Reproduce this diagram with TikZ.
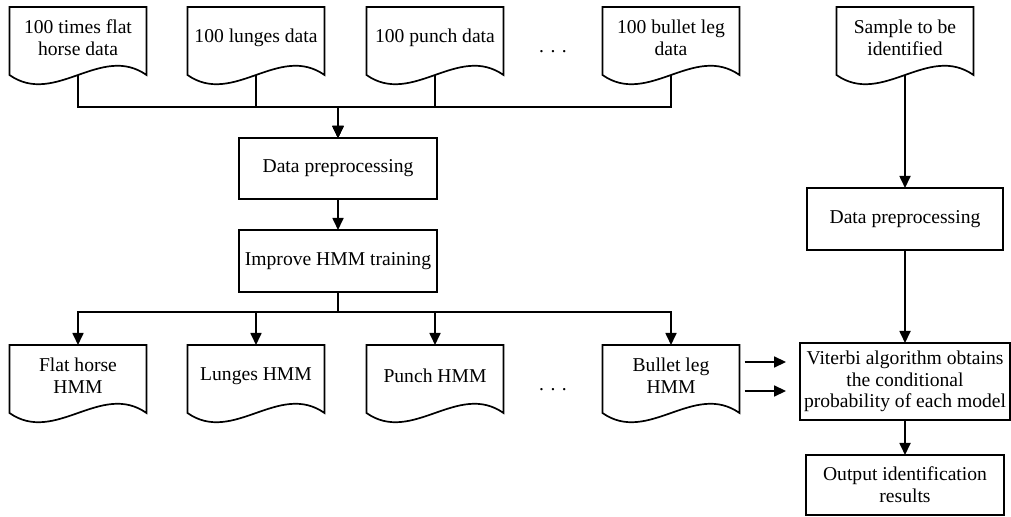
\documentclass[tikz,border=0pt]{standalone}
\usepackage{fontspec}
\setmainfont{Liberation Serif}
\usetikzlibrary{arrows.meta,positioning,calc}

\tikzset{
  boxtext/.style={font=\fontsize{9.8}{10.9}\selectfont, align=center},
  procbox/.style={draw, line width=.85pt, boxtext, minimum height=30.5pt,
    minimum width=99pt, inner sep=2pt, outer sep=0pt},
  docbox/.style={minimum width=68.5pt, minimum height=34pt, inner sep=0pt, outer sep=0pt,
    append after command={\pgfextra{%
      \draw[line width=.85pt] (\tikzlastnode.south west) -- (\tikzlastnode.north west)
        -- (\tikzlastnode.north east) -- (\tikzlastnode.south east)
        .. controls ([xshift=-22.8pt,yshift=16pt]\tikzlastnode.south east)
        and ([xshift=22.8pt,yshift=-16pt]\tikzlastnode.south west) .. (\tikzlastnode.south west)
        -- cycle;}}},
  doctext/.style={boxtext, yshift=1.5pt},
  dotstext/.style={font=\fontsize{9.8}{10.9}\selectfont, inner sep=0pt},
  flow/.style={-{Triangle[length=6pt,width=5.5pt]}, line width=.85pt}
}

\begin{document}
\begin{tikzpicture}
  \useasboundingbox (0,0) rectangle (505.5pt,-258.5pt);

  % recorded action data
  \node[docbox, label={[doctext]center:100 times flat\\horse data}] (flatdata) at (39pt,-20.5pt) {};
  \node[docbox, right=20.5pt of flatdata, label={[doctext]center:100 lunges data}] (lungedata) {};
  \node[docbox, right=21pt of lungedata, label={[doctext]center:100 punch data}] (punchdata) {};
  \node[docbox, right=49.5pt of punchdata, label={[doctext]center:100 bullet leg\\data}] (bulletdata) {};
  \node[dotstext] (datadots) at ($(punchdata.east)!.5!(bulletdata.west)+(0,-5.5pt)$) {. . .};
  \node[docbox, right=48.5pt of bulletdata, label={[doctext]center:Sample to be\\identified}] (sample) {};

  % training branch
  \node[procbox, anchor=north] (prep) at (169pt,-69pt) {Data preprocessing};
  \node[procbox, below=15.5pt of prep, minimum height=31pt] (train) {Improve HMM training};

  \node[docbox, below=135pt of flatdata, label={[doctext]center:Flat horse\\HMM}] (flathmm) {};
  \node[docbox, right=20.5pt of flathmm, label={[doctext]center:Lunges HMM}] (lungehmm) {};
  \node[docbox, right=21pt of lungehmm, label={[doctext]center:Punch HMM}] (punchhmm) {};
  \node[docbox, right=49.5pt of punchhmm, label={[doctext]center:Bullet leg\\HMM}] (bullethmm) {};
  \node[dotstext] (hmmdots) at ($(punchhmm.east)!.5!(bullethmm.west)+(0,-5.5pt)$) {. . .};

  % recognition branch
  \node[procbox, below=56.5pt of sample, minimum width=98pt, minimum height=31pt] (prep2) {Data preprocessing};
  \node[procbox, below=46.5pt of prep2, minimum width=104.5pt, minimum height=38.5pt] (viterbi) {Viterbi algorithm obtains\\the conditional\\probability of each model};
  \node[procbox, below=17.5pt of viterbi, minimum height=30pt] (result) {Output identification\\results};

  \draw[flow] (flatdata.south) -- ++(0,-16pt) -| (prep.north);
  \draw[flow] (lungedata.south) -- ++(0,-16pt) -| (prep.north);
  \draw[flow] (punchdata.south) -- ++(0,-16pt) -| (prep.north);
  \draw[flow] (bulletdata.south) -- ++(0,-16pt) -| (prep.north);
  \draw[flow] (prep) -- (train);
  \draw[flow] (train.south) -- ++(0,-10pt) -| (flathmm.north);
  \draw[flow] (train.south) -- ++(0,-10pt) -| (lungehmm.north);
  \draw[flow] (train.south) -- ++(0,-10pt) -| (punchhmm.north);
  \draw[flow] (train.south) -- ++(0,-10pt) -| (bullethmm.north);

  \draw[flow] (sample) -- (prep2);
  \draw[flow] (prep2) -- (viterbi);
  \draw[flow] (viterbi) -- (result);
  \draw[flow, shorten <=2.5pt, shorten >=7pt] ([yshift=8.5pt]bullethmm.east) -- ([yshift=8.5pt]bullethmm.east -| viterbi.west);
  \draw[flow, shorten <=2.5pt, shorten >=7pt] ([yshift=-6pt]bullethmm.east) -- ([yshift=-6pt]bullethmm.east -| viterbi.west);
\end{tikzpicture}
\end{document}
